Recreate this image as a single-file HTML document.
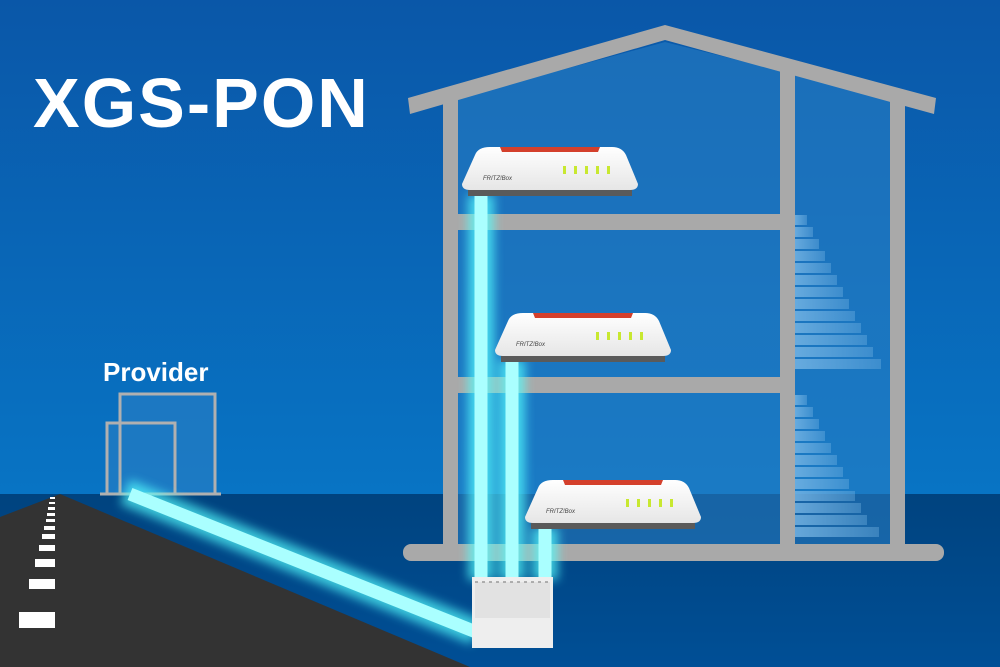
<!DOCTYPE html><html><head><style>body{margin:0}svg{display:block}</style></head><body>
<svg width="1000" height="667" viewBox="0 0 1000 667" xmlns="http://www.w3.org/2000/svg">
<defs>
<linearGradient id="sky" x1="0" y1="0" x2="0" y2="1"><stop offset="0" stop-color="#0a57a8"/><stop offset="1" stop-color="#0874c4"/></linearGradient>
<linearGradient id="gnd" x1="0" y1="0" x2="0" y2="1"><stop offset="0" stop-color="#00437f"/><stop offset="1" stop-color="#004f96"/></linearGradient>
<filter id="glow" x="-50%" y="-50%" width="200%" height="200%"><feGaussianBlur stdDeviation="5"/></filter>
<linearGradient id="rt" x1="0" y1="0" x2="0" y2="1"><stop offset="0" stop-color="#fff"/><stop offset="1" stop-color="#e6e6e6"/></linearGradient>
<linearGradient id="st" x1="0" y1="0" x2="1" y2="0"><stop offset="0" stop-color="#7ab8e6" stop-opacity="0.8"/><stop offset="1" stop-color="#7ab8e6" stop-opacity="0.35"/></linearGradient>
</defs>
<rect width="1000" height="495" fill="url(#sky)"/>
<rect y="494" width="1000" height="173" fill="url(#gnd)"/>
<polygon points="450,100 665,42 898,100 898,552 450,552" fill="#2a7fc4" opacity="0.55"/>
<g fill="url(#st)">
<rect x="795" y="215" width="12" height="10"/><rect x="795" y="227" width="18" height="10"/><rect x="795" y="239" width="24" height="10"/><rect x="795" y="251" width="30" height="10"/><rect x="795" y="263" width="36" height="10"/><rect x="795" y="275" width="42" height="10"/><rect x="795" y="287" width="48" height="10"/><rect x="795" y="299" width="54" height="10"/><rect x="795" y="311" width="60" height="10"/><rect x="795" y="323" width="66" height="10"/><rect x="795" y="335" width="72" height="10"/><rect x="795" y="347" width="78" height="10"/><rect x="795" y="359" width="86" height="10"/>
<rect x="795" y="395" width="12" height="10"/><rect x="795" y="407" width="18" height="10"/><rect x="795" y="419" width="24" height="10"/><rect x="795" y="431" width="30" height="10"/><rect x="795" y="443" width="36" height="10"/><rect x="795" y="455" width="42" height="10"/><rect x="795" y="467" width="48" height="10"/><rect x="795" y="479" width="54" height="10"/><rect x="795" y="491" width="60" height="10"/><rect x="795" y="503" width="66" height="10"/><rect x="795" y="515" width="72" height="10"/><rect x="795" y="527" width="84" height="10"/>
</g>
<g fill="#a9a9a9">
<polygon points="408,98 665,25 936,98 934,114 665,40 410,114"/>
<rect x="443" y="95" width="15" height="455"/>
<rect x="890" y="95" width="15" height="455"/>
<rect x="780" y="62" width="15" height="488"/>
<rect x="458" y="214" width="322" height="16"/>
<rect x="458" y="377" width="322" height="16"/>
<rect x="403" y="544" width="541" height="17" rx="8"/>
</g>
<polygon points="0,517 60,494 470,667 0,667" fill="#333"/>
<g fill="#fff">
<rect x="50" y="497" width="5" height="2"/><rect x="49" y="502" width="6" height="2"/><rect x="48" y="507" width="7" height="3"/><rect x="47" y="513" width="8" height="3"/><rect x="46" y="519" width="9" height="3"/><rect x="44" y="526" width="11" height="4"/><rect x="42" y="534" width="13" height="5"/><rect x="39" y="545" width="16" height="6"/><rect x="35" y="559" width="20" height="8"/><rect x="29" y="579" width="26" height="10"/><rect x="19" y="612" width="36" height="16"/>
</g>
<g fill="#2a7fc4" opacity="0.6"><rect x="120" y="394" width="95" height="100"/><rect x="107" y="423" width="68" height="71"/></g>
<g stroke="#b0b0b0" stroke-width="3" fill="none">
<rect x="120" y="394" width="95" height="100"/><rect x="107" y="423" width="68" height="71"/>
<line x1="100" y1="494" x2="221" y2="494"/></g>
<text x="103" y="381" font-family="Liberation Sans, sans-serif" font-weight="bold" font-size="26" fill="#fff">Provider</text>
<text x="33" y="127" font-family="Liberation Sans, sans-serif" font-weight="bold" font-size="70" fill="#fff" letter-spacing="2">XGS-PON</text>
<g stroke="#5ff" stroke-linecap="butt" filter="url(#glow)" opacity="0.7">
<line x1="125" y1="492" x2="476" y2="632" stroke-width="26"/>
<line x1="481" y1="195" x2="481" y2="580" stroke-width="26"/>
<line x1="512" y1="360" x2="512" y2="580" stroke-width="26"/>
<line x1="545" y1="528" x2="545" y2="580" stroke-width="26"/>
</g>
<g stroke="#aaffff">
<line x1="130" y1="494" x2="476" y2="632" stroke-width="13"/>
<line x1="481" y1="195" x2="481" y2="580" stroke-width="13"/>
<line x1="512" y1="360" x2="512" y2="580" stroke-width="13"/>
<line x1="545" y1="528" x2="545" y2="580" stroke-width="13"/>
</g>
<rect x="472" y="577" width="81" height="71" fill="#eee"/>
<rect x="475" y="582" width="75" height="36" fill="#e2e2e2"/>
<g stroke="#999" stroke-width="1.5" stroke-dasharray="3,4"><line x1="475" y1="582" x2="550" y2="582"/></g>
<g id="r">
<path d="M462,184 L475,155 Q478,147 490,147 L612,147 Q622,147 626,155 L638,184 Q638,190 630,190 L470,190 Q462,190 462,184Z" fill="url(#rt)"/>
<path d="M500,147 L600,147 L598,152 L502,152Z" fill="#d4402c"/>
<rect x="468" y="190" width="164" height="6" fill="#5a5a5a"/>
<g fill="#c8e830"><rect x="563" y="166" width="3" height="8"/><rect x="574" y="166" width="3" height="8"/><rect x="585" y="166" width="3" height="8"/><rect x="596" y="166" width="3" height="8"/><rect x="607" y="166" width="3" height="8"/></g>
<text x="483" y="180" font-family="Liberation Sans, sans-serif" font-size="6" font-style="italic" fill="#444">FRITZ!Box</text>
</g>
<use href="#r" x="33" y="166"/>
<use href="#r" x="63" y="333"/>
</svg>
</body></html>
